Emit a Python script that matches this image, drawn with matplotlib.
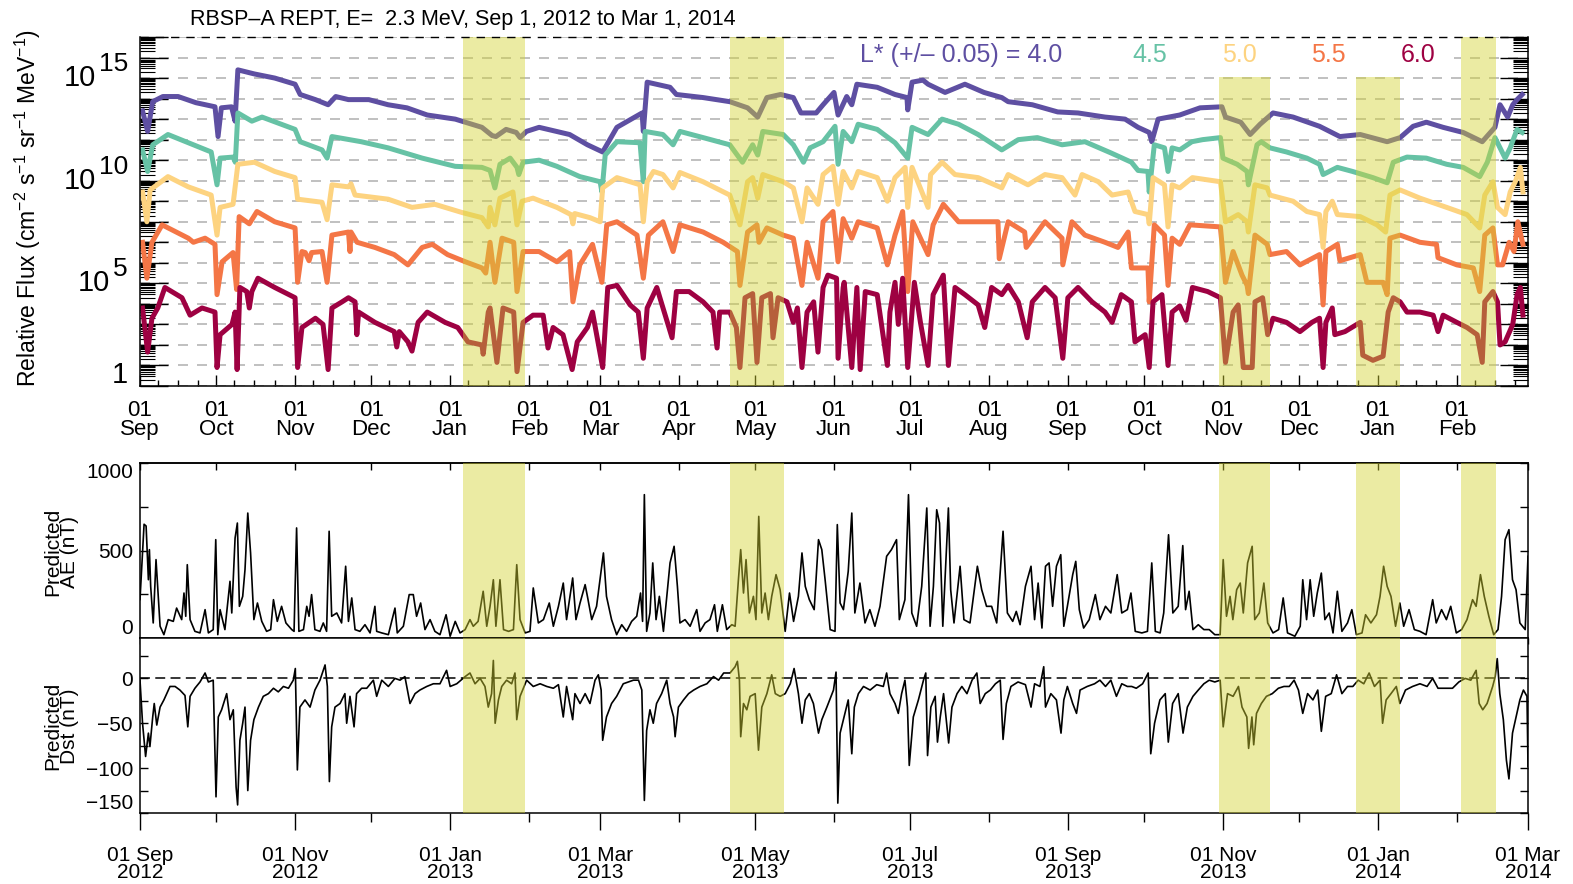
import numpy as np
import matplotlib
matplotlib.use('Agg')
import matplotlib.pyplot as plt
from matplotlib.patches import Rectangle
from matplotlib.ticker import LogLocator, NullFormatter

plt.rcParams['font.family'] = ['Liberation Sans', 'DejaVu Sans']
plt.rcParams['mathtext.fontset'] = 'custom'
plt.rcParams['mathtext.rm'] = 'Liberation Sans'
plt.rcParams['mathtext.default'] = 'regular'

# (days since 01 Sep 2012, log10 relative flux)
flux_l40 = [(1, 13.4), (3, 12.4), (5, 13.85), (9, 14.1), (15, 14.1), (22, 13.8), (29.5, 13.6), (30.7, 12.15),
            (32, 13.55), (36, 13.6), (37.4, 12.9), (38.5, 15.4), (45, 15.2), (53, 15.0), (61, 14.7), (63, 14.2),
            (69, 13.95), (74, 13.7), (77, 14.1), (82, 13.95), (90, 13.95), (97.6, 13.7), (105, 13.55), (113, 13.2),
            (124, 13.0), (134.5, 12.6), (138.5, 12.2), (140, 12.15), (144, 12.5), (148, 12.35), (149.5, 12.1),
            (152, 12.4), (157, 12.6), (169, 12.25), (176, 11.75), (182, 11.4), (187.6, 12.6), (197.5, 13.3),
            (198, 12.4), (199.5, 14.8), (208.5, 14.55), (211, 14.2), (221.5, 14.05), (232, 13.85), (239, 13.55),
            (243, 13.1), (246.6, 14.05), (252, 14.2), (257, 14.05), (260, 13.3), (266, 13.3), (268.7, 13.7),
            (273, 14.3), (274.6, 13.2), (278, 14.1), (280, 13.7), (282, 14.7), (290, 14.55), (297, 14.2),
            (301.7, 14.05), (302, 13.45), (303.7, 14.8), (308, 14.9), (310, 14.7), (316.7, 14.3), (324.5, 14.7),
            (332, 14.3), (339, 14.05), (341.5, 13.85), (351, 13.7), (361, 13.35), (369, 13.3), (379.6, 13.1),
            (387.5, 13.0), (392.6, 12.6), (397, 12.35), (398, 11.9), (400.5, 13.0), (409, 13.2), (417, 13.55),
            (425.6, 13.6), (427, 13.1), (433, 12.85), (436.7, 12.25), (440.6, 12.75), (445.7, 13.3), (453.6, 13.1),
            (464, 12.65), (472, 12.15), (480, 12.25), (490.6, 11.9), (495.7, 12.1), (500.8, 12.65), (506, 12.85),
            (512.6, 12.6), (520.5, 12.35), (528, 11.9), (533, 12.6), (535, 13.7), (538, 13.1), (540, 13.7),
            (541.7, 13.95), (543.7, 14.2)]

flux_l45 = [(1, 11.5), (3, 10.45), (5, 11.75), (11, 12.25), (19, 11.85), (28, 11.4), (30.3, 9.8), (31.5, 11.1),
            (36.6, 11.15), (37.5, 10.9), (38.5, 13.3), (44, 12.9), (48, 13.1), (61, 12.5), (63, 11.9), (71.6, 11.5),
            (73.6, 11.1), (75.5, 12.15), (87, 11.9), (97.6, 11.6), (111, 11.1), (124, 10.7), (134.5, 10.65),
            (137.7, 10.5), (139.6, 9.65), (141.6, 10.8), (145.6, 11.1), (148.3, 10.65), (149, 10.3), (150.7, 10.9),
            (157, 11.0), (164, 10.7), (173, 10.2), (181, 9.95), (181.7, 9.45), (183, 11.25), (187.6, 11.9),
            (196.7, 11.85), (198, 9.95), (198.7, 12.4), (205.7, 12.25), (209.7, 11.75), (212.4, 12.4), (221.5, 12.1),
            (232, 11.75), (237, 10.9), (241, 11.75), (243, 11.25), (245, 12.4), (253, 12.25), (257, 11.75),
            (261, 10.9), (263.6, 11.6), (268.7, 11.9), (273.4, 12.65), (274.6, 10.8), (276.6, 12.4), (280, 11.9),
            (282.5, 12.75), (290, 12.5), (297, 11.85), (302, 11.1), (303.7, 12.6), (310, 12.25), (315.5, 13.0),
            (322, 12.75), (329.7, 12.25), (339, 11.5), (345.5, 12.0), (353, 12.1), (362.7, 11.75), (371.7, 11.9),
            (382, 11.35), (390, 10.9), (392.6, 10.5), (396.5, 10.45), (397, 9.45), (399, 11.75), (403, 11.6),
            (404.4, 10.45), (406, 11.6), (409, 11.5), (413.8, 11.9), (418, 12.0), (425, 12.1), (426, 11.1),
            (431.6, 10.8), (435.5, 10.45), (436, 9.8), (439.4, 11.75), (441, 11.9), (444.5, 11.6), (451, 11.4),
            (459, 11.1), (464, 10.8), (465.4, 10.3), (471, 10.65), (477, 10.45), (485, 10.15), (490.6, 9.9),
            (493, 10.9), (498.4, 11.15), (506, 11.1), (514, 10.8), (520.5, 10.65), (527, 10.2), (530, 10.9),
            (533, 12.1), (535, 11.6), (537, 11.1), (539, 11.6), (541.7, 12.5), (543.7, 12.35)]

flux_l50 = [(1, 9.45), (2.7, 8.0), (4, 9.55), (11, 10.2), (19, 9.7), (28, 9.3), (30.3, 7.35), (31.5, 8.7),
            (36.6, 8.85), (38.5, 10.8), (45, 10.9), (53, 10.45), (61, 10.15), (62, 9.1), (71.6, 8.95), (73.6, 8.1),
            (75.5, 9.8), (82, 9.7), (83, 9.85), (84.6, 9.3), (97.6, 9.1), (107, 8.7), (116, 8.85), (126.7, 8.45),
            (134.5, 8.2), (137, 7.75), (137.7, 8.7), (139.6, 7.85), (141.6, 9.15), (146.7, 9.45), (148.3, 7.85),
            (150.3, 9.0), (154.6, 9.15), (164, 8.7), (169.5, 8.35), (170.3, 7.9), (171, 8.4), (177, 8.2), (181, 8.0),
            (182, 9.65), (187.6, 10.15), (196.7, 9.8), (198, 8.0), (199.5, 9.95), (202, 10.45), (205.7, 10.3),
            (209.7, 9.65), (212.4, 10.4), (221.5, 9.95), (232, 9.3), (236, 7.85), (239, 9.95), (241, 10.15),
            (243, 9.15), (245, 10.3), (253, 9.95), (257, 9.65), (260.4, 8.0), (262.4, 9.65), (266.7, 8.85),
            (268.7, 10.3), (272.6, 10.7), (274.6, 8.85), (276.6, 10.45), (280, 9.65), (282.5, 10.45), (290, 10.15),
            (294, 9.0), (297, 10.15), (301, 10.65), (302, 8.7), (303.7, 10.65), (310, 8.7), (311, 10.3),
            (315.5, 10.9), (320.6, 10.3), (329.7, 10.15), (339, 9.65), (341.5, 10.3), (349.3, 9.8), (356, 10.3),
            (362.7, 10.15), (367.8, 9.3), (370.6, 10.3), (377, 9.95), (382.4, 9.3), (388.7, 9.45), (391.4, 8.5),
            (396.5, 8.35), (397, 7.9), (398.5, 10.15), (403, 9.8), (404.4, 7.75), (406, 9.8), (409, 9.65),
            (414, 10.15), (425, 9.95), (427, 8.0), (432, 8.35), (435.5, 8.0), (436, 7.5), (438.6, 9.8),
            (443.4, 9.65), (444.5, 9.3), (453.6, 9.0), (459, 8.5), (464, 8.35), (465.4, 6.75), (466.5, 8.5),
            (469, 9.0), (471, 8.35), (480, 8.25), (486.6, 7.85), (490, 7.5), (491.7, 9.3), (495.7, 9.55),
            (503.5, 9.15), (514, 8.7), (522, 8.35), (527, 7.7), (529, 9.3), (532.2, 9.95), (534, 8.7), (537, 8.35),
            (539, 9.45), (541, 9.95), (543, 10.65), (544, 9.45)]

flux_l55 = [(1, 7.0), (2.7, 5.25), (4.7, 7.0), (8.7, 7.85), (19, 7.2), (21, 7.0), (25.6, 7.2), (29.5, 6.9),
            (30.3, 4.45), (32.3, 6.05), (36.6, 6.5), (38, 4.7), (39, 8.25), (43, 7.9), (46, 8.5), (53, 8.0),
            (61, 7.7), (62, 5.05), (63.7, 6.55), (65, 6.5), (66.5, 6.1), (67.5, 6.5), (71.6, 6.55), (73.6, 5.05),
            (75.5, 7.35), (82, 7.5), (82.6, 6.55), (83, 7.5), (85.4, 7.0), (92.4, 6.75), (100, 6.4), (105.4, 5.9),
            (111, 6.75), (115, 6.9), (121, 6.4), (128, 6.05), (134.5, 5.75), (136, 5.5), (137.7, 7.0), (139.6, 5.05),
            (142.4, 7.2), (147, 7.0), (148.3, 4.6), (150.7, 6.55), (157, 6.55), (164, 6.05), (169, 6.55),
            (170.3, 4.1), (173, 5.9), (178, 6.9), (181.7, 5.05), (183.6, 7.85), (187.6, 8.0), (195.5, 7.35),
            (198, 5.25), (200, 7.35), (205.7, 8.0), (209.7, 6.55), (212.4, 7.85), (221.5, 7.5), (229.4, 7.0),
            (235, 6.55), (236, 4.9), (239, 7.5), (242.7, 7.85), (243.5, 7.0), (246.6, 7.7), (253, 7.35), (257, 7.2),
            (260.4, 4.9), (262.4, 7.0), (266.7, 5.25), (268.7, 8.0), (272.6, 8.5), (274.6, 6.05), (276.6, 8.15),
            (280, 7.2), (282.5, 8.0), (290, 7.7), (294, 5.9), (297, 7.35), (300, 8.5), (302, 4.6), (304, 8.0),
            (310, 6.4), (312, 7.85), (316, 8.85), (322, 8.0), (329.7, 8.0), (337.5, 8.0), (338, 6.2), (341.5, 8.0),
            (348, 7.5), (348.6, 6.75), (356, 8.0), (362.7, 7.2), (363, 5.9), (366.6, 8.0), (371.7, 7.35),
            (379.6, 7.0), (384.7, 6.75), (388.7, 7.5), (390, 5.75), (396.5, 5.75), (397, 4.1), (399, 7.85),
            (403, 7.35), (404.4, 4.9), (406, 7.2), (409, 6.9), (413, 7.85), (425, 7.75), (427, 5.05), (430, 6.55),
            (433.5, 5.4), (435.5, 4.9), (436, 4.5), (438.6, 7.35), (443.4, 6.9), (444.5, 6.4), (451, 6.55),
            (456.3, 5.9), (464, 6.4), (465.4, 3.95), (466.5, 6.55), (471, 6.9), (472, 6.1), (480, 6.4),
            (482.6, 5.05), (489, 5.05), (490.6, 4.45), (491.7, 7.2), (495.7, 7.35), (503.5, 7.0), (510, 6.9),
            (510.6, 6.25), (518, 5.9), (524.5, 5.75), (527, 4.6), (529, 7.35), (532.2, 7.7), (534, 5.9), (536, 5.9),
            (538.6, 7.0), (540.5, 6.55), (542, 8.0), (544, 6.9)]

flux_l60 = [(1, 3.8), (3, 1.65), (4.7, 3.3), (7, 3.8), (9.8, 4.8), (16.5, 4.3), (19.7, 3.45), (24.4, 3.8),
            (29.5, 3.6), (30.3, 0.9), (31.5, 2.5), (36.2, 3.0), (37.4, 3.6), (38.2, 0.8), (39.3, 4.8), (42, 4.6),
            (43, 3.8), (44, 4.6), (46.4, 5.25), (53, 4.8), (61, 4.3), (62, 0.9), (63.7, 2.85), (69, 3.3), (72, 3.0),
            (74, 0.8), (75.5, 3.8), (79.5, 4.1), (82, 4.3), (84.6, 4.1), (85.3, 2.5), (86, 3.6), (92.4, 3.1),
            (100, 2.65), (101, 1.9), (102, 2.65), (105.4, 2.15), (107, 1.7), (109.4, 3.1), (113, 3.6), (120, 3.1),
            (125, 2.85), (129, 2.15), (134.5, 2.0), (135, 1.55), (137, 3.6), (137.7, 3.8), (140.4, 1.15),
            (142.8, 3.8), (147, 3.6), (148.3, 0.7), (150.7, 3.1), (154.6, 3.45), (158.6, 3.45), (160.5, 1.85),
            (162.5, 2.85), (166.4, 2.5), (170, 0.8), (172, 2.15), (176, 2.85), (178, 3.6), (182, 0.9), (184, 4.8),
            (187.6, 4.9), (192.8, 3.95), (196, 3.6), (198, 1.35), (199.5, 3.8), (203.3, 4.8), (205, 4.1),
            (209.3, 2.35), (211, 4.6), (216, 4.6), (221.5, 4.1), (225.4, 3.6), (227, 1.85), (228, 3.6), (232, 3.6),
            (234.6, 2.85), (236, 0.9), (238, 4.3), (241, 4.5), (242.7, 1.15), (244.6, 4.3), (248, 4.5), (249, 2.35),
            (251, 4.3), (254.5, 4.1), (257, 3.1), (258.6, 3.8), (260.4, 0.9), (262.4, 3.6), (265, 4.1),
            (266.7, 1.65), (268.7, 4.8), (270.6, 5.4), (274, 5.25), (274.6, 1.35), (276.6, 4.8), (277, 5.05),
            (280, 0.9), (282, 4.8), (283.3, 0.8), (285.3, 4.6), (290, 4.45), (294, 1.0), (295, 3.6), (297, 5.05),
            (298.3, 3.0), (300, 5.25), (302, 0.9), (304.6, 5.05), (307, 3.1), (310, 1.0), (312, 4.45), (316, 5.4),
            (318, 1.0), (320.6, 4.8), (324.5, 4.45), (329.7, 3.95), (332.3, 2.85), (335, 4.8), (339, 4.45),
            (341.5, 4.9), (345.5, 4.1), (349, 2.35), (351, 4.1), (356, 4.8), (360, 4.3), (363, 1.35), (365, 4.3),
            (369, 4.8), (374.5, 4.1), (379.6, 3.6), (382.4, 3.1), (386, 4.45), (390, 4.1), (391.4, 2.15),
            (395.4, 2.5), (397, 0.9), (398.5, 4.1), (402, 4.45), (404.4, 1.0), (406, 3.6), (409, 3.9), (411.5, 3.2),
            (414, 4.8), (420, 4.6), (425, 4.3), (427, 1.15), (430, 3.6), (432, 3.95), (434, 0.9), (437.5, 0.9),
            (438.6, 4.1), (441.6, 4.3), (443.6, 2.5), (445.7, 3.3), (451, 3.1), (456.3, 2.65), (461, 3.1),
            (464, 3.3), (465.4, 0.9), (466.5, 3.1), (469, 3.8), (470, 2.5), (474, 2.65), (480, 3.1), (481, 1.5),
            (485, 1.25), (489, 1.45), (491, 3.6), (493, 4.3), (495.7, 4.1), (498.4, 3.6), (503.5, 3.6),
            (508.7, 3.45), (510.6, 2.65), (512.6, 3.45), (518, 3.1), (522, 2.85), (526, 2.5), (528, 1.15),
            (529, 4.1), (532.2, 4.6), (534, 4.1), (535, 2.0), (537, 2.15), (540, 3.0), (541.7, 4.45), (543, 4.8),
            (544, 3.45)]

# (days since 01 Sep 2012, nT)
ae_pred = [(0, 220), (1.6, 650), (2.4, 640), (3.3, 333), (3.7, 505), (4.2, 295), (5.2, 86), (6.3, 448), (7.9, 67),
           (9.4, 19), (11.1, 105), (13.1, 95), (14.4, 171), (16.4, 105), (17.3, 257), (18, 124), (18.6, 419),
           (19.7, 105), (21.6, 38), (23.6, 29), (25.6, 162), (26.9, 29), (28.8, 48), (29.8, 562), (30.6, 19),
           (31.5, 162), (33.4, 48), (35.4, 324), (36.1, 143), (37.4, 571), (38.3, 657), (39.1, 181), (40.4, 238),
           (41.3, 390), (42.4, 714), (43.5, 486), (44.8, 105), (46.2, 200), (47.9, 95), (49.8, 38), (51.4, 48),
           (52.5, 219), (54, 95), (55.7, 181), (57.4, 86), (59.7, 48), (60.6, 38), (61.6, 629), (62.5, 38),
           (64.3, 48), (65.6, 181), (66.5, 124), (67.5, 248), (68.8, 48), (70.8, 38), (72.1, 86), (73.4, 38),
           (74.4, 610), (75.4, 124), (77.4, 143), (79.3, 86), (80.9, 410), (82, 95), (83.3, 229), (84.6, 48),
           (86.5, 38), (88.5, 76), (90.5, 29), (92.4, 181), (93.1, 38), (95.1, 29), (97.7, 19), (100.3, 171),
           (101.2, 29), (103.6, 67), (105.9, 248), (107.5, 248), (108.8, 124), (110.4, 200), (112.1, 48),
           (114.1, 105), (116, 38), (118, 19), (120.4, 133), (122, 10), (124, 95), (125.9, 29), (127.9, 48),
           (129.8, 105), (131.1, 67), (133, 95), (135, 267), (136.4, 67), (137.7, 181), (139, 333), (140, 67),
           (141.6, 333), (143, 48), (145, 38), (146.9, 48), (148.2, 419), (149.5, 105), (151.5, 29), (153.4, 38),
           (154.7, 286), (156.7, 86), (158.7, 105), (161, 200), (162.6, 67), (164.6, 181), (166.5, 314),
           (167.8, 105), (170.2, 343), (171.5, 105), (173.1, 200), (175.1, 305), (176, 238), (177.7, 105),
           (179.6, 181), (182.3, 486), (183.5, 238), (185.5, 105), (187.5, 19), (189.5, 76), (191.4, 38),
           (193.4, 95), (195.4, 124), (196.9, 257), (197.7, 95), (198.4, 819), (199.3, 38), (200.6, 143),
           (201.7, 429), (203, 105), (204.3, 238), (205.9, 38), (208.5, 429), (210.1, 524), (211.4, 295),
           (212.4, 86), (214.4, 105), (216.4, 67), (219, 162), (220.3, 38), (222.3, 86), (224.2, 105), (226, 190),
           (227.1, 38), (229.1, 190), (230.8, 48), (232.8, 76), (234.1, 67), (235.4, 333), (236.3, 505),
           (237.4, 257), (238.4, 448), (239.7, 143), (241.3, 238), (242.3, 105), (243.4, 695), (244.6, 143),
           (245.9, 257), (247.2, 105), (248.5, 238), (250.2, 362), (251.8, 276), (253.8, 38), (255.5, 257),
           (257.1, 95), (259, 238), (260.4, 486), (261.7, 295), (263.3, 219), (265.2, 162), (266.9, 562),
           (268.2, 505), (269.5, 333), (271.5, 48), (273.4, 38), (274.3, 648), (275.4, 200), (276.7, 162),
           (278.6, 381), (280, 714), (281.2, 143), (283.2, 314), (285.2, 86), (287.1, 162), (289.1, 67),
           (291.1, 181), (293.7, 467), (295.6, 505), (297.6, 562), (298.7, 105), (300.9, 219), (302.3, 819),
           (303.6, 143), (305.5, 67), (307.5, 295), (309.5, 743), (310.8, 67), (312.1, 295), (313.4, 733),
           (314.5, 657), (315.8, 67), (318, 743), (318.9, 276), (320.2, 86), (322.6, 410), (324.1, 105),
           (326.5, 86), (329.4, 410), (331.1, 276), (333, 181), (335, 181), (337, 86), (339.5, 610), (341.2, 143),
           (343.3, 95), (344.7, 152), (346.2, 76), (348.3, 295), (350.5, 410), (351.9, 105), (353.3, 314),
           (354.8, 57), (356.2, 410), (357.6, 429), (359, 181), (360.5, 410), (362.2, 476), (363.4, 67),
           (364.8, 181), (366.9, 362), (368.1, 438), (369.5, 162), (371.2, 57), (373.4, 105), (375.8, 248),
           (377.6, 105), (379.8, 181), (381.9, 143), (384.4, 362), (386.2, 143), (388.4, 162), (389.8, 257),
           (391.5, 38), (394.1, 29), (396.3, 38), (398, 429), (399.4, 38), (401.3, 29), (402.7, 143), (404.6, 590),
           (406.3, 143), (408.4, 181), (410.2, 528), (411.3, 162), (412.7, 267), (414.2, 48), (416.3, 76),
           (418.5, 48), (420.6, 48), (422.8, 19), (424.9, 19), (426.1, 448), (427.4, 124), (428.8, 238),
           (429.9, 105), (431.4, 276), (432.8, 314), (434, 143), (435.7, 429), (437.5, 524), (438.5, 105),
           (440.3, 143), (442.1, 314), (443.6, 86), (445.7, 29), (447.9, 48), (449.7, 229), (451.4, 29),
           (454.3, 10), (456.4, 67), (457.4, 333), (458.9, 105), (460.3, 333), (461.7, 124), (463.1, 257),
           (464.7, 371), (466.1, 105), (467.8, 143), (469.3, 29), (471, 267), (472.8, 38), (475, 86), (476.7, 162),
           (478.5, 19), (480.7, 29), (482.1, 133), (484.2, 86), (486.4, 133), (487.8, 238), (489.2, 410),
           (490.6, 295), (492.1, 238), (493.9, 67), (495.6, 200), (497.1, 67), (499.2, 162), (501.3, 48),
           (503.5, 38), (505.9, 19), (508.5, 219), (509.9, 86), (512, 162), (513.9, 105), (515.6, 181),
           (517.8, 29), (519.9, 48), (522, 105), (524.2, 219), (525.6, 181), (527.3, 362), (528.8, 238),
           (530.6, 124), (532.5, 19), (534.2, 48), (535.6, 238), (537, 562), (538.5, 619), (539.9, 333),
           (541.3, 276), (542.8, 86), (544.9, 48), (546, 467)]

dst_pred = [(0, -2), (1, -50), (2.2, -87), (3.3, -61), (3.9, -76), (5, -43), (5.6, -28), (6.6, -52), (7.9, -32),
            (9.4, -24), (11.8, -9), (13.8, -9), (15.7, -13), (17.7, -19), (18.8, -54), (19.7, -20), (21.6, -11),
            (23.6, -4), (25.6, 6), (26.9, -4), (28.8, -2), (29.9, -132), (30.8, -43), (32.1, -35), (34.1, -17),
            (35.4, -46), (36.7, -35), (37.8, -121), (38.4, -141), (39.3, -69), (40.4, -50), (41.3, -32),
            (42.4, -125), (43.5, -69), (44.8, -46), (46.6, -32), (48.5, -20), (50.5, -17), (52.5, -11),
            (54.4, -15), (56.4, -9), (58.4, -11), (60.3, -2), (61.1, 11), (61.9, -102), (62.9, -32), (64.9, -24),
            (66.9, -32), (68.8, -13), (70.8, -2), (72.8, 15), (73.7, -9), (74.5, -115), (75.4, -54), (76.7, -32),
            (78.7, -28), (80.6, -17), (81.3, -50), (82.6, -20), (84.2, -54), (85.2, -17), (87.2, -11), (89.2, -11),
            (91.8, -2), (93.1, -20), (95.1, -2), (97.7, -9), (100.3, 0), (102.3, -2), (104.2, 2), (106.2, -28),
            (108.2, -17), (110.1, -13), (112.8, -9), (115.4, -6), (118, -6), (120.6, 9), (122, -9), (124.6, -6),
            (127.9, 2), (129.8, 6), (131.8, -6), (133.8, 0), (135.7, -9), (137, -32), (138.3, -17), (139, 20),
            (139.7, -50), (141, -24), (142.3, -9), (144.2, -2), (146.2, -6), (147.5, 6), (148.2, -46),
            (149.5, -20), (152.1, -2), (154.7, -9), (157.4, -6), (160, -9), (162.6, -11), (164.6, -7),
            (166.5, -43), (167.8, -9), (170.2, -46), (171.1, -17), (173.1, -28), (175.1, -17), (177, -28),
            (179, -2), (180.3, 4), (181.4, -13), (182, -69), (183.5, -43), (185.5, -28), (187.5, -20), (190.1, -6),
            (192.1, -4), (194.1, -2), (196.1, -2), (197.4, -13), (198.4, -136), (199.3, -58), (200.6, -35),
            (201.9, -50), (203.2, -28), (205.2, -17), (207.2, -2), (208.5, -28), (209.9, -43), (210.5, -65),
            (211.8, -32), (213.8, -24), (215.8, -17), (217.8, -13), (220.3, -9), (223, -6), (225.6, 2),
            (227.6, -2), (229.6, 6), (232.1, 6), (234.1, 13), (235, 19), (235.8, -2), (236.3, -65), (237.4, -28),
            (238.7, -35), (240, -20), (242, -17), (243.3, -80), (244.6, -32), (246.6, -17), (248.5, 4),
            (249.9, -17), (251.8, -20), (253.8, -17), (255.8, -6), (257.3, 11), (259, -17), (260.4, -50),
            (261.7, -24), (263.3, -17), (264.9, -28), (266.9, -61), (268.2, -46), (270.2, -32), (272.8, -13),
            (273.8, 7), (274.5, -139), (275.4, -61), (276.7, -46), (278.6, -24), (280, -84), (281, -32),
            (282.6, -17), (284.6, -9), (287.2, -13), (289.8, -7), (292.4, -9), (293.7, 6), (295, -17), (297, -28),
            (298.3, -39), (299.6, -17), (300.9, -2), (301.9, -32), (302.6, -97), (304.2, -43), (306.2, -24),
            (308.2, -2), (309.1, 6), (309.8, -86), (311.1, -32), (312.8, -20), (313.7, -71), (314.8, -43),
            (316.1, -17), (318.1, -72), (319.4, -32), (321.4, -17), (323.3, -9), (325.3, -17), (327.3, -2),
            (329.2, 6), (330.5, -28), (332.5, -17), (334.5, -13), (336.5, -6), (338.4, -2), (339.5, -68),
            (340.8, -28), (342.6, -9), (345.4, -4), (348.3, -7), (350.5, -32), (351.9, -6), (354, -9), (355.5, 13),
            (356.2, -32), (358.3, -17), (360.5, -24), (362.3, -61), (363.4, -24), (364.8, -9), (366.9, -28),
            (368.4, -39), (369.8, -13), (372.6, -9), (375.5, -6), (377.6, -2), (379.8, -9), (381.9, -2),
            (384.1, -20), (386.2, -6), (388.4, -9), (390.1, -9), (391.9, -11), (394.4, -6), (396.6, 6),
            (397.6, -84), (399.1, -50), (401.2, -24), (403.3, -17), (404.5, -71), (406.2, -28), (408.4, -17),
            (410.3, -61), (412, -32), (414.2, -20), (416.3, -13), (418.5, -6), (420.6, -2), (422.8, -4),
            (424.9, -2), (426.1, -54), (427.8, -17), (430, -20), (432.1, -9), (433.5, -32), (435.4, -43),
            (436.1, -78), (437.4, -43), (438.1, -74), (439.2, -39), (441.1, -28), (443.1, -20), (445.4, -17),
            (447.8, -11), (450, -9), (452.1, -9), (454, -2), (455.7, -13), (457.4, -39), (459.3, -17),
            (461.4, -24), (463.3, -13), (464.7, -59), (466.4, -20), (468.6, -17), (470.7, 4), (472.8, -17),
            (475, -9), (477.1, -9), (479.2, -2), (481.4, -6), (483.5, 6), (485.6, -9), (487.8, -2), (488.8, -50),
            (490.2, -24), (492.1, -17), (494.2, -9), (495.6, -28), (497.8, -13), (500.6, -9), (503.5, -6),
            (506.3, -9), (508.5, 0), (510.6, -11), (513.5, -11), (516.3, -11), (518.8, -4), (521.3, 0),
            (523.5, -2), (525.6, 9), (526.8, -28), (528.2, -35), (529.9, -28), (532.1, -9), (533.1, 2),
            (533.9, 22), (534.9, -17), (536.3, -46), (537.5, -91), (538.5, -112), (539.9, -61), (541.3, -43),
            (542.8, -24), (544.2, -13), (545.6, -20), (546, -98)]

# highlighted intervals (days since 01 Sep 2012)
storm_bands = [(127, 151.5), (232, 253.5), (424.5, 444.5), (478.4, 495.5), (519.5, 533.5)]

lshell_labels = ['L* (+/\u2013 0.05) = 4.0', '4.5', '5.0', '5.5', '6.0']
lshell_colors = ['#5E4FA2', '#66C2A5', '#FDD380', '#F47646', '#9E0142']
all_flux = [flux_l40, flux_l45, flux_l50, flux_l55, flux_l60]

start = np.datetime64('2012-09-01')
months = np.arange(np.datetime64('2012-09'), np.datetime64('2014-04'), dtype='datetime64[M]')
month_days = (months.astype('datetime64[D]') - start).astype(float)
month_dates = [m.astype(object) for m in months]
end_day = month_days[-1]

band_color = (0.83, 0.83, 0.2)

fig = plt.figure(figsize=(15.73, 8.84), dpi=100)
W, H = 1573.0, 884.0
ax1 = fig.add_axes([140 / W, 1 - 386 / H, 1388 / W, 349 / H])
ax2 = fig.add_axes([140 / W, 1 - 638 / H, 1388 / W, 175 / H])
ax3 = fig.add_axes([140 / W, 1 - 813 / H, 1388 / W, 175 / H])

# ---- flux panel ----
for series, col in zip(all_flux, lshell_colors):
    d, v = np.array(series).T
    ax1.plot(d, 10.0 ** v, color=col, lw=3.6, zorder=2)

ax1.set_yscale('log')
ax1.set_ylim(1, 1e17)
ax1.set_xlim(0, end_day)
ax1.yaxis.set_major_locator(LogLocator(base=10, numticks=40))
ax1.yaxis.set_minor_locator(LogLocator(base=10, subs=np.arange(2, 10), numticks=40))
ax1.yaxis.set_minor_formatter(NullFormatter())
ax1.tick_params(axis='y', which='major', direction='in', length=20, width=1.0,
                left=True, right=True, labelleft=False)
ax1.tick_params(axis='y', which='minor', direction='in', length=10.5, width=0.8, left=True, right=True)
ax1.yaxis.grid(True, which='major', color='#b5b5b5', lw=1.2, ls=(0, (6, 5.4)))

top_labels = ['01\n' + m.strftime('%b') for m in month_dates[:-1]]
ax1.set_xticks(month_days[:-1], top_labels)
minor_days = np.concatenate([month_days[:-1] + k for k in (7, 15, 23)])
ax1.set_xticks(minor_days, minor=True)
ax1.tick_params(axis='x', which='major', direction='in', length=8, width=1.0, pad=10, labelsize=16, top=False)
ax1.tick_params(axis='x', which='minor', direction='in', length=4, width=1.0, top=False)
for t in ax1.get_xticklabels():
    t.set_linespacing(0.9)

for sp in ['left', 'right', 'bottom']:
    ax1.spines[sp].set_linewidth(1.1)
ax1.spines['top'].set_visible(False)
ax1.plot([0, 1], [1, 1], transform=ax1.transAxes, color='k', lw=1.0, ls=(0, (6, 5)),
         clip_on=False, zorder=6)

yax = ax1.get_yaxis_transform()
for k in [5, 10, 15]:
    ex = ax1.annotate(str(k), xy=(0, 10.0 ** k), xycoords=yax, xytext=(-12, 14), textcoords='offset pixels',
                      ha='right', va='center', fontsize=19)
    ax1.annotate('10', xy=(0, 0.5), xycoords=ex, xytext=(-3, -14), textcoords='offset pixels',
                 ha='right', va='center', fontsize=21)
ax1.annotate('1', xy=(0, 1.0), xycoords=yax, xytext=(-12, 11), textcoords='offset pixels',
             ha='right', va='center', fontsize=21)

for a, b in storm_bands:
    ax1.axvspan(a, b, color=band_color, alpha=0.45, lw=0, zorder=3)

# white legend area
ax1.add_patch(Rectangle((0.5007, 0.885), 0.4463, 0.115, transform=ax1.transAxes,
                        facecolor='white', edgecolor='none', zorder=4))
leg_x = [0.519, 0.7277, 0.7918, 0.856, 0.9207]
leg_ha = ['left', 'center', 'center', 'center', 'center']
for lab, col, x, ha in zip(lshell_labels, lshell_colors, leg_x, leg_ha):
    ax1.text(x, 0.948, lab, color=col, fontsize=18, ha=ha, va='center', transform=ax1.transAxes, zorder=5)

# ---- AE panel ----
d, v = np.array(ae_pred).T
ax2.plot(d, v, color='k', lw=1.2, zorder=2)
ax2.set_xlim(0, end_day)
ax2.set_ylim(0, 1000)
ax2.set_yticks([0, 500, 1000])
ax2.set_yticks([250, 750], minor=True)
ax2.tick_params(axis='y', which='both', direction='in', length=6, width=1.0, left=True, right=True,
                labelsize=15, pad=5)
labs = ax2.get_yticklabels()
labs[0].set_va('bottom')
labs[-1].set_va('top')
ax2.set_xticks(month_days)
ax2.tick_params(axis='x', which='major', direction='out', length=4.5, width=1.0, labelbottom=False)
sec = ax2.secondary_xaxis('top')
sec.set_xticks(month_days)
sec.xaxis.set_major_formatter(NullFormatter())
sec.tick_params(direction='in', length=5, width=1.0)
sec.spines['top'].set_linewidth(1.1)

# ---- Dst panel ----
d, v = np.array(dst_pred).T
ax3.plot(d, v, color='k', lw=1.2, zorder=2)
ax3.axhline(0, color='k', lw=1.1, ls=(0, (6.5, 3.5)), zorder=1.8)
ax3.set_xlim(0, end_day)
ax3.set_ylim(-150, 45)
ax3.set_yticks([-150, -100, -50, 0])
ax3.set_yticks([-125, -75, -25, 25], minor=True)
ax3.tick_params(axis='y', which='both', direction='in', length=6, width=1.0, left=True, right=True,
                labelsize=15, pad=5)
ax3.get_yticklabels()[0].set_va('bottom')

month_num = months.astype(int) % 12 + 1
labeled = month_num % 2 == 1
bottom_labels = [m.strftime('%d %b') + '\n' + str(m.year)
                 for m, keep in zip(month_dates, labeled) if keep]
ax3.set_xticks(month_days[labeled], bottom_labels)
ax3.set_xticks(month_days[~labeled], minor=True)
ax3.tick_params(axis='x', which='major', direction='out', length=12, width=1.0, pad=11.5, labelsize=15)
ax3.tick_params(axis='x', which='minor', direction='out', length=6.5, width=1.0)
for t in ax3.get_xticklabels():
    t.set_linespacing(0.9)

for ax in (ax2, ax3):
    for sp in ax.spines.values():
        sp.set_linewidth(1.1)
    for a, b in storm_bands:
        ax.axvspan(a, b, color=band_color, alpha=0.45, lw=0, zorder=3)

# ---- text ----
fig.text(190 / W, 1 - 20 / H, 'RBSP\u2013A REPT, E=  2.3 MeV, Sep 1, 2012 to Mar 1, 2014',
         fontsize=15.5, ha='left', va='center')
fig.text(28 / W, 1 - 208 / H, 'Relative Flux (cm$^{-2}$ s$^{-1}$ sr$^{-1}$ MeV$^{-1}$)',
         fontsize=16.5, rotation=90, ha='center', va='center')
fig.text(61 / W, 1 - 552 / H, 'Predicted\nAE (nT)', fontsize=15, rotation=90, ha='center', va='center',
         linespacing=0.85)
fig.text(61 / W, 1 - 726 / H, 'Predicted\nDst (nT)', fontsize=15, rotation=90, ha='center', va='center',
         linespacing=0.85)

fig.savefig('out.png', dpi=100)
